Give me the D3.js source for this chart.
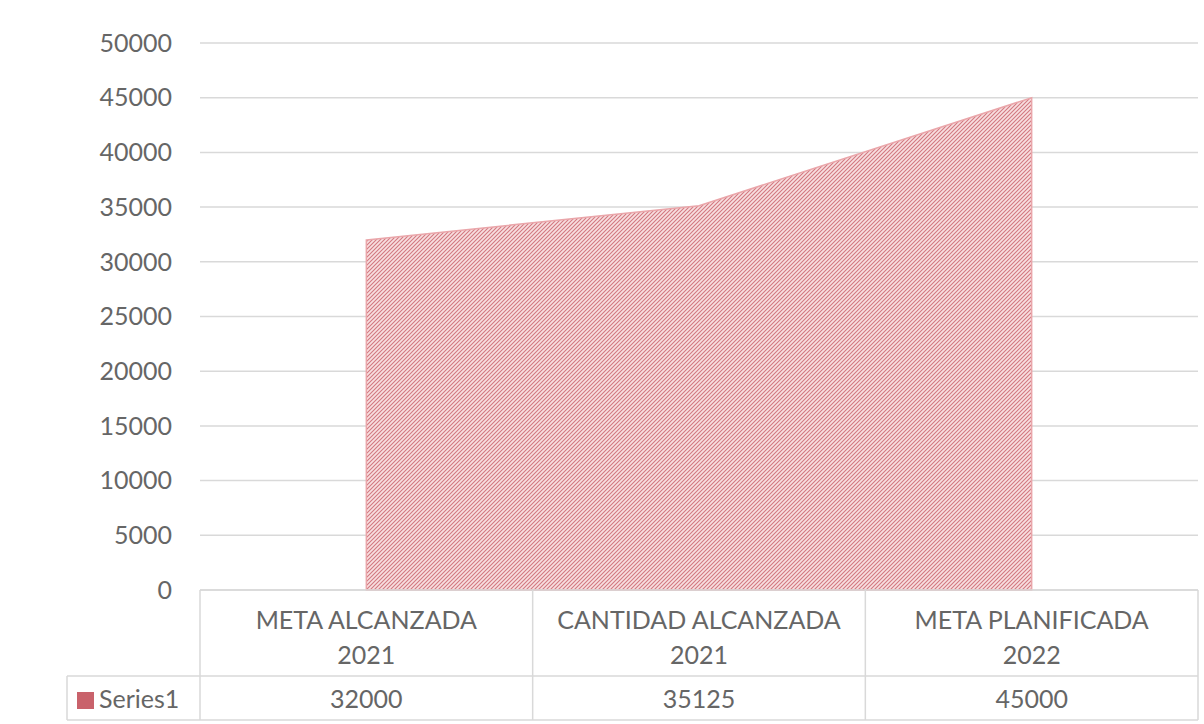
<!DOCTYPE html>
<html>
<head>
<meta charset="utf-8">
<script src="https://cdn.jsdelivr.net/npm/d3@7"></script>
<style>
  body { margin: 0; background: #fff; }
  svg { display: block; font-family: Lato, "Open Sans", sans-serif; }
</style>
</head>
<body>
<svg></svg>
<script>
const categories = [["META ALCANZADA", "2021"], ["CANTIDAD ALCANZADA", "2021"], ["META PLANIFICADA", "2022"]];
const values = [32000, 35125, 45000];
const seriesName = "Series1";
const yTicks = [0, 5000, 10000, 15000, 20000, 25000, 30000, 35000, 40000, 45000, 50000];

function areaChart() {
  const width = 1204;
  const height = 724;
  const marginTop = 43;
  const marginLeft = 200;
  const marginRight = 6;
  const plotBottom = 590;
  const headerBottom = 676;
  const tableBottom = 720;
  const legendLeft = 67;
  const fontSize = 25;

  const svg = d3.select("svg").attr("width", width).attr("height", height);

  const x = d3
    .scaleBand(d3.range(categories.length), [marginLeft, width - marginRight])
    .padding(0);

  const y = d3.scaleLinear([0, 50000], [plotBottom, marginTop]);

  // hatch pattern (wide upward diagonal)
  const defs = svg.append("defs");
  const pat = defs
    .append("pattern")
    .attr("id", "hatch")
    .attr("patternUnits", "userSpaceOnUse")
    .attr("width", 4)
    .attr("height", 4);
  pat.append("rect").attr("width", 4).attr("height", 4).attr("fill", "#f8dfe0");
  pat
    .append("path")
    .attr("d", "M-1,1 l2,-2 M0,4 l4,-4 M3,5 l2,-2")
    .attr("stroke", "#d27880")
    .attr("stroke-width", 1.1);

  // gridlines
  svg
    .append("g")
    .selectAll("line")
    .data(yTicks)
    .enter()
    .append("line")
    .attr("x1", marginLeft)
    .attr("x2", width - marginRight)
    .attr("y1", (d) => y(d))
    .attr("y2", (d) => y(d))
    .attr("stroke", "#d9d9d9")
    .attr("stroke-width", 1.5);

  // y axis labels
  svg
    .append("g")
    .selectAll("text")
    .data(yTicks)
    .enter()
    .append("text")
    .attr("x", 172)
    .attr("y", (d) => y(d))
    .attr("dy", "0.35em")
    .attr("text-anchor", "end")
    .attr("font-size", fontSize)
    .attr("fill", "#666")
    .text((d) => d);

  // area
  const area = d3
    .area()
    .x((d, i) => x(i) + x.bandwidth() / 2)
    .y0(y(0))
    .y1((d) => y(d));

  svg
    .append("path")
    .datum(values)
    .attr("d", area)
    .attr("fill", "url(#hatch)")
    .attr("stroke", "#eaa6aa")
    .attr("stroke-width", 1.5);

  // data table
  const grid = svg.append("g").attr("stroke", "#d9d9d9").attr("stroke-width", 1.5).attr("fill", "none");
  grid.append("line").attr("x1", marginLeft).attr("x2", width - marginRight).attr("y1", plotBottom).attr("y2", plotBottom);
  grid.append("line").attr("x1", legendLeft).attr("x2", width - marginRight).attr("y1", headerBottom).attr("y2", headerBottom);
  grid.append("line").attr("x1", legendLeft).attr("x2", width - marginRight).attr("y1", tableBottom).attr("y2", tableBottom);
  grid.append("line").attr("x1", legendLeft).attr("x2", legendLeft).attr("y1", headerBottom).attr("y2", tableBottom);
  const edges = d3.range(categories.length).map((i) => x(i)).concat([width - marginRight]);
  grid
    .selectAll(".v")
    .data(edges)
    .enter()
    .append("line")
    .attr("x1", (d) => d)
    .attr("x2", (d) => d)
    .attr("y1", plotBottom)
    .attr("y2", tableBottom);

  const header = svg
    .append("g")
    .selectAll("text")
    .data(categories)
    .enter()
    .append("text")
    .attr("text-anchor", "middle")
    .attr("font-size", fontSize)
    .attr("fill", "#666");
  header
    .append("tspan")
    .attr("x", (d, i) => x(i) + x.bandwidth() / 2)
    .attr("y", 629)
    .text((d) => d[0]);
  header
    .append("tspan")
    .attr("x", (d, i) => x(i) + x.bandwidth() / 2)
    .attr("y", 664)
    .text((d) => d[1]);

  svg
    .append("g")
    .selectAll("text")
    .data(values)
    .enter()
    .append("text")
    .attr("x", (d, i) => x(i) + x.bandwidth() / 2)
    .attr("y", 708)
    .attr("text-anchor", "middle")
    .attr("font-size", fontSize)
    .attr("fill", "#666")
    .text((d) => d);

  // legend key
  svg
    .append("rect")
    .attr("x", 77)
    .attr("y", 692)
    .attr("width", 17)
    .attr("height", 17)
    .attr("fill", "#c9626b");
  svg
    .append("text")
    .attr("x", 99)
    .attr("y", 708)
    .attr("font-size", fontSize)
    .attr("fill", "#666")
    .text(seriesName);
}

areaChart();
</script>
</body>
</html>
